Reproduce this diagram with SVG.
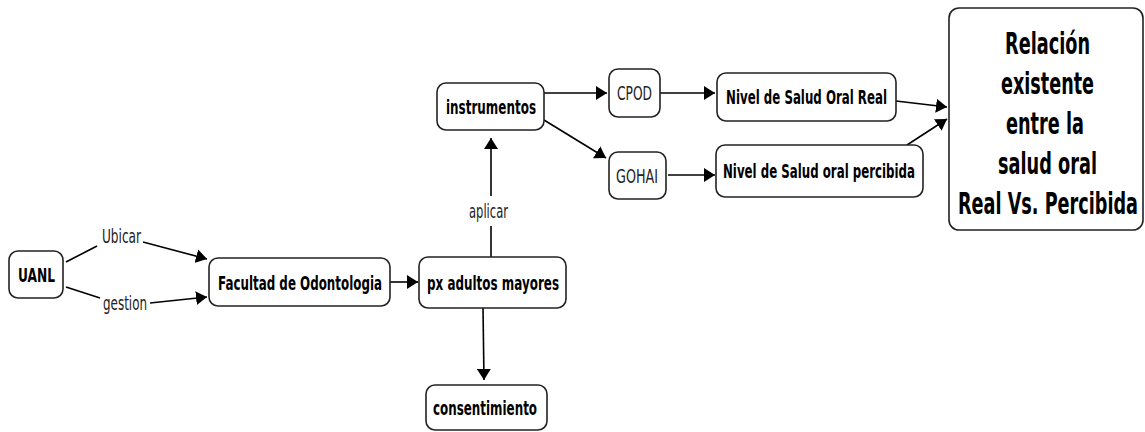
<svg xmlns="http://www.w3.org/2000/svg" width="1145" height="432" viewBox="0 0 1145 432">
<defs>
<marker id="ah" viewBox="0 0 11 14" refX="11" refY="7" markerWidth="11" markerHeight="14" markerUnits="userSpaceOnUse" orient="auto">
<path d="M0,0 L11,7 L0,14 z" fill="#000"/>
</marker>
<style>
.box{fill:#fff;stroke:#222;stroke-width:1.6}
.t{font-family:"DejaVu Sans",sans-serif;font-weight:bold;font-size:20px;fill:#000;text-anchor:middle;dominant-baseline:central}
.r{font-family:"DejaVu Sans",sans-serif;font-size:19px;fill:#222;text-anchor:middle;dominant-baseline:central}
.big{font-size:31px}
.c{fill:none;stroke:#000;stroke-width:1.6}
</style>
</defs>
<rect width="1145" height="432" fill="#fff"/>
<g id="connectors">
<path class="c" d="M66,262 L97,246"/>
<path class="c" d="M143,242 L207,259" marker-end="url(#ah)"/>
<path class="c" d="M66,287 L100,298"/>
<path class="c" d="M150,303 L207,297" marker-end="url(#ah)"/>
<path class="c" d="M390,282 L418,282" marker-end="url(#ah)"/>
<path class="c" d="M491,257 L491,226"/>
<path class="c" d="M491,196 L491,138" marker-end="url(#ah)"/>
<path class="c" d="M483,308 L484,380" marker-end="url(#ah)"/>
<path class="c" d="M544,93 L607,93" marker-end="url(#ah)"/>
<path class="c" d="M544,120 L606,158" marker-end="url(#ah)"/>
<path class="c" d="M660,93 L715,93" marker-end="url(#ah)"/>
<path class="c" d="M668,175 L715,175" marker-end="url(#ah)"/>
<path class="c" d="M896,101 L947,107" marker-end="url(#ah)"/>
<path class="c" d="M907,145 L947,119" marker-end="url(#ah)"/>
<text class="r" x="121.5" y="236" textLength="39" lengthAdjust="spacingAndGlyphs">Ubicar</text>
<text class="r" x="125" y="303" textLength="44" lengthAdjust="spacingAndGlyphs">gestion</text>
<text class="r" x="488.5" y="211" textLength="39" lengthAdjust="spacingAndGlyphs">aplicar</text>
</g>
<g id="uanl"><rect class="box" x="9" y="251" width="54" height="47" rx="9"/><text class="t" x="36.5" y="274.5" textLength="37" lengthAdjust="spacingAndGlyphs">UANL</text></g>
<g id="facultad"><rect class="box" x="209" y="258" width="181" height="48" rx="9"/><text class="t" x="300" y="283" textLength="164" lengthAdjust="spacingAndGlyphs">Facultad de Odontologia</text></g>
<g id="px"><rect class="box" x="419" y="257" width="147" height="51" rx="9"/><text class="t" x="493" y="282.5" textLength="132" lengthAdjust="spacingAndGlyphs">px adultos mayores</text></g>
<g id="consentimiento"><rect class="box" x="426" y="385" width="121" height="45" rx="9"/><text class="t" x="485" y="408" textLength="104" lengthAdjust="spacingAndGlyphs">consentimiento</text></g>
<g id="instrumentos"><rect class="box" x="437" y="83" width="107" height="47" rx="9"/><text class="t" x="491" y="106.5" textLength="90" lengthAdjust="spacingAndGlyphs">instrumentos</text></g>
<g id="cpod"><rect class="box" x="609" y="69" width="51" height="48" rx="9"/><text class="r" x="634.5" y="93" textLength="35" lengthAdjust="spacingAndGlyphs">CPOD</text></g>
<g id="gohai"><rect class="box" x="609" y="152" width="57" height="47" rx="9"/><text class="r" x="637" y="175.5" textLength="42" lengthAdjust="spacingAndGlyphs">GOHAI</text></g>
<g id="real"><rect class="box" x="717" y="73" width="179" height="48" rx="9"/><text class="t" x="806.5" y="97" textLength="161" lengthAdjust="spacingAndGlyphs">Nivel de Salud Oral Real</text></g>
<g id="percibida"><rect class="box" x="716" y="145" width="207" height="52" rx="9"/><text class="t" x="819" y="171" textLength="192" lengthAdjust="spacingAndGlyphs">Nivel de Salud oral percibida</text></g>
<g id="relacion"><rect class="box" x="949" y="8" width="194" height="222" rx="10"/>
<text class="t big" x="1047.5" y="43" textLength="85" lengthAdjust="spacingAndGlyphs">Relación</text>
<text class="t big" x="1047.5" y="83" textLength="93" lengthAdjust="spacingAndGlyphs">existente</text>
<text class="t big" x="1045" y="123" textLength="78" lengthAdjust="spacingAndGlyphs">entre la</text>
<text class="t big" x="1047.5" y="163" textLength="99" lengthAdjust="spacingAndGlyphs">salud oral</text>
<text class="t big" x="1048" y="203" textLength="180" lengthAdjust="spacingAndGlyphs">Real Vs. Percibida</text>
</g>
</svg>
